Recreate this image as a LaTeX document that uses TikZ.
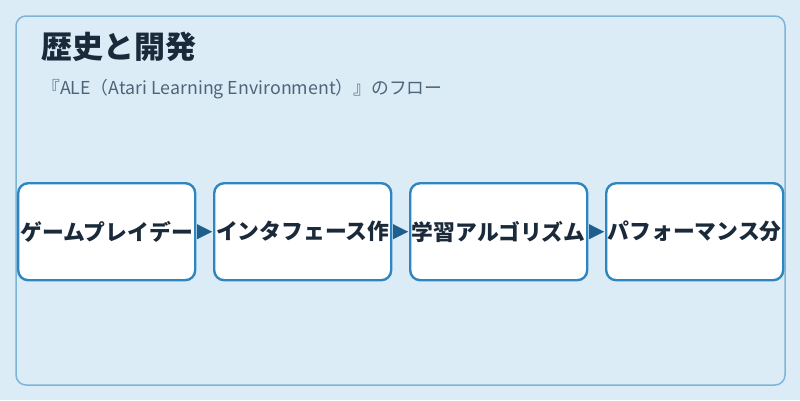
\documentclass[tikz,border=0pt]{standalone}
\usepackage{fontspec}
\setmainfont{Noto Sans CJK JP}
\usetikzlibrary{arrows.meta}
\definecolor{bgc}{HTML}{DCECF7}
\definecolor{panelc}{HTML}{7DB4D8}
\definecolor{boxc}{HTML}{2E86C1}
\definecolor{arrc}{HTML}{1F5F8B}
\definecolor{titlec}{HTML}{1B2A3A}
\definecolor{subc}{HTML}{4D6578}
\tikzset{
  x=1pt,y=-1pt,
  stepbox/.style={draw=boxc,line width=2.4pt,fill=white,rounded corners=10pt,minimum width=177pt,minimum height=97pt,inner sep=0pt,anchor=north west},
  steplabel/.style={font=\fontsize{21.8}{26}\selectfont\bfseries,text=titlec,inner sep=0pt},
  flow/.style={draw=arrc,fill=arrc,line width=0.1pt,-{Triangle[length=15pt,width=15pt]}}
}
\begin{document}
\begin{tikzpicture}
\useasboundingbox (0,0) rectangle (800,400);
\fill[bgc] (0,0) rectangle (800,400);
\draw[panelc,line width=1.5pt,rounded corners=10pt,fill=bgc] (16,16) rectangle (785,385);
\node[anchor=west,font=\fontsize{31}{36}\selectfont\bfseries,text=titlec,inner sep=0pt] (title) at (41,47) {歴史と開発};
\node[anchor=west,font=\fontsize{17.8}{22}\selectfont,text=subc,inner sep=0pt] (sub) at (42,89) {『ALE（Atari Learning Environment）』のフロー};
\node[stepbox] (b1) at (17,182) {};
\node[stepbox] (b2) at (213,182) {};
\node[stepbox] (b3) at (409,182) {};
\node[stepbox] (b4) at (605,182) {};
\node[steplabel] (t1) at (b1.center) {ゲームプレイデー};
\node[steplabel] (t2) at (b2.center) {インタフェース作};
\node[steplabel] (t3) at (b3.center) {学習アルゴリズム};
\node[steplabel] (t4) at (b4.center) {パフォーマンス分};
\draw[flow] ([xshift=1pt]b1.east) -- ([xshift=-1pt]b2.west);
\draw[flow] ([xshift=1pt]b2.east) -- ([xshift=-1pt]b3.west);
\draw[flow] ([xshift=1pt]b3.east) -- ([xshift=-1pt]b4.west);
\end{tikzpicture}
\end{document}
